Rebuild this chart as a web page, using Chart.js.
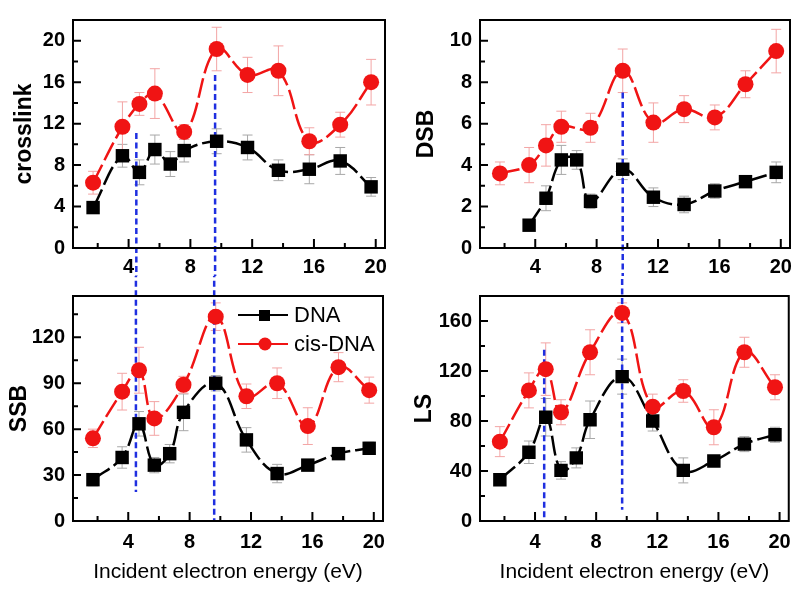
<!DOCTYPE html>
<html>
<head>
<meta charset="utf-8">
<script src="https://cdn.jsdelivr.net/npm/chart.js@4.4.1/dist/chart.umd.min.js"></script>
<style>
  body { margin: 0; background: #fff; }
  #wrap { position: relative; width: 800px; height: 590px; }
  .panel { position: absolute; }
</style>
</head>
<body>
<div id="wrap">
  <div class="panel" style="left:0;top:0;width:400px;height:276px"><canvas id="crosslink"></canvas></div>
  <div class="panel" style="left:400px;top:0;width:400px;height:276px"><canvas id="dsb"></canvas></div>
  <div class="panel" style="left:0;top:276px;width:400px;height:314px"><canvas id="ssb"></canvas></div>
  <div class="panel" style="left:400px;top:276px;width:400px;height:314px"><canvas id="ls"></canvas></div>
</div>
<script>
// energies (eV) of the measured points
const energyDNA = [1.7, 3.6, 4.7, 5.7, 6.7, 7.6, 9.7, 11.7, 13.7, 15.7, 17.7, 19.7]
const energyCis = [1.7, 3.6, 4.7, 5.7, 7.6, 9.7, 11.7, 13.7, 15.7, 17.7, 19.7]

// crosslink
const crosslinkDNA = [3.9, 8.9, 7.3, 9.5, 8.1, 9.4, 10.3, 9.7, 7.5, 7.6, 8.4, 5.9]
const crosslinkDNAErr = [0.4, 1.1, 1.2, 1.4, 1.2, 1.1, 1.2, 1.2, 1.0, 1.4, 1.3, 0.9]
const crosslinkCis = [6.3, 11.7, 13.9, 14.9, 11.2, 19.2, 16.7, 17.1, 10.3, 11.9, 16.0]
const crosslinkCisErr = [1.1, 2.4, 1.1, 2.4, 0.7, 2.1, 1.7, 2.4, 1.3, 1.2, 2.2]

// DSB
const dsbDNA = [null, 1.1, 2.4, 4.25, 4.25, 2.25, 3.8, 2.45, 2.1, 2.75, 3.2, 3.65]
const dsbDNAErr = [0, 0.25, 0.6, 0.7, 0.45, 0.35, 0.5, 0.45, 0.4, 0.35, 0.2, 0.5]
const dsbCis = [3.6, 4.0, 4.95, 5.85, 5.8, 8.55, 6.05, 6.7, 6.3, 7.9, 9.5]
const dsbCisErr = [0.55, 0.85, 1.0, 0.75, 0.7, 1.05, 0.95, 0.65, 0.6, 0.65, 1.05]

// SSB
const ssbDNA = [27, 41.5, 63.5, 36.5, 44, 71, 90, 53, 31, 36.5, 44, 47.5]
const ssbDNAErr = [4, 7, 8, 5, 6, 12, 5, 8, 6, 3, 3, 4]
const ssbCis = [54, 84.5, 98.5, 67, 89, 133.5, 81.5, 90, 62, 100.5, 85.5]
const ssbCisErr = [6, 12, 15, 11, 5.5, 9, 8, 10, 12, 9.5, 8.5]

// LS
const lsDNA = [33, 55, 83, 40.5, 50.5, 81, 115.5, 80, 40.5, 48, 61.5, 69]
const lsDNAErr = [4, 9, 15, 7, 8, 15, 14, 8, 10, 3, 6, 6]
const lsCis = [63.5, 104.5, 121.5, 87, 135, 166.5, 91.5, 104, 75, 135, 107]
const lsCisErr = [12, 14, 21, 10, 18, 8, 10, 9, 14, 12, 10]

// blue dashed guide lines: x position, from / to (y values, past the edge = runs into next panel)
const crosslinkGuideX = [4.5, 9.6]
const crosslinkGuideFrom = [11.1, 16.7]
const crosslinkGuideTo = [-10, -10]
const dsbGuideX = [9.7]
const dsbGuideFrom = [7.5]
const dsbGuideTo = [-10]
const ssbGuideX = [4.5, 9.6]
const ssbGuideFrom = [250, 250]
const ssbGuideTo = [19, 0]
const lsGuideX = [4.6, 9.7]
const lsGuideFrom = [137, 300]
const lsGuideTo = [0, 9]

Chart.defaults.font.family = '"Liberation Sans", Arial, sans-serif'
Chart.defaults.color = '#000'

const RED = '#f01414'
const BLACK = '#000'

const toPoints = (xs, ys) => xs.map((x, i) => ({ x, y: ys[i] }))

// frame, inward ticks, error bars, legend
const panelDecor = {
  id: 'panelDecor',
  beforeDatasetsDraw(chart) {
    const ctx = chart.ctx
    const yScale = chart.scales.y
    chart.data.datasets.forEach((ds, i) => {
      if (!ds.errorBars) return
      const meta = chart.getDatasetMeta(i)
      ctx.save()
      ctx.strokeStyle = ds.errorColor
      ctx.lineWidth = 1
      meta.data.forEach((el, j) => {
        const v = ds.data[j].y
        const e = ds.errorBars[j]
        if (v == null || !e) return
        const top = yScale.getPixelForValue(v + e)
        const bot = yScale.getPixelForValue(v - e)
        ctx.beginPath()
        ctx.moveTo(el.x, top)
        ctx.lineTo(el.x, bot)
        ctx.moveTo(el.x - 5, top)
        ctx.lineTo(el.x + 5, top)
        ctx.moveTo(el.x - 5, bot)
        ctx.lineTo(el.x + 5, bot)
        ctx.stroke()
      })
      ctx.restore()
    })
  },
  afterDraw(chart, args, opts) {
    const ctx = chart.ctx
    const a = chart.chartArea
    ctx.save()
    ctx.strokeStyle = '#000'
    ctx.lineWidth = 2
    ctx.strokeRect(a.left, a.top, a.right - a.left, a.bottom - a.top)

    ctx.beginPath()
    chart.scales.x.ticks.forEach(t => {
      const px = chart.scales.x.getPixelForValue(t.value)
      const len = t.value % 4 === 0 ? 9 : 5
      ctx.moveTo(px, a.bottom)
      ctx.lineTo(px, a.bottom - len)
    })
    chart.scales.y.ticks.forEach(t => {
      const py = chart.scales.y.getPixelForValue(t.value)
      const len = Math.abs(t.value % opts.yMajor) < 1e-6 ? 8 : 5
      ctx.moveTo(a.left, py)
      ctx.lineTo(a.left + len, py)
    })
    ctx.stroke()

    if (opts.legend) {
      const lx = a.right - 145
      const rows = [
        { y: a.top + 19, color: BLACK, text: 'DNA', square: true },
        { y: a.top + 48, color: RED, text: 'cis-DNA', square: false },
      ]
      rows.forEach(r => {
        ctx.strokeStyle = r.color
        ctx.fillStyle = r.color
        ctx.lineWidth = 2
        ctx.beginPath()
        ctx.moveTo(lx, r.y)
        ctx.lineTo(lx + 50, r.y)
        ctx.stroke()
        ctx.beginPath()
        if (r.square) ctx.rect(lx + 21, r.y - 5, 11, 11)
        else ctx.arc(lx + 27, r.y, 6.5, 0, Math.PI * 2)
        ctx.fill()
        ctx.fillStyle = '#000'
        ctx.font = '22px "Liberation Sans", Arial, sans-serif'
        ctx.textBaseline = 'middle'
        ctx.fillText(r.text, lx + 56, r.y + 1)
      })
    }
    ctx.restore()
  },
}

function makePanel(id, p) {
  const guides = p.guideX.map((gx, i) => ({
    type: 'line',
    data: [{ x: gx, y: p.guideFrom[i] }, { x: gx, y: p.guideTo[i] }],
    borderColor: '#1f2fe0',
    borderWidth: 2.5,
    borderDash: [6, 3.5],
    pointRadius: 0,
    clip: false,
    order: 5,
  }))

  const data = {
    datasets: [
      ...guides,
      {
        label: 'DNA',
        data: toPoints(energyDNA, p.dna),
        errorBars: p.dnaErr,
        errorColor: '#a8a8a8',
        borderColor: BLACK,
        backgroundColor: BLACK,
        borderWidth: 2.5,
        borderDash: [20, 5],
        tension: 0.4,
        pointStyle: 'rect',
        pointRadius: 9.5,
        pointBorderWidth: 0,
        order: 2,
      },
      {
        label: 'cis-DNA',
        data: toPoints(energyCis, p.cis),
        errorBars: p.cisErr,
        errorColor: '#f3a5a5',
        borderColor: RED,
        backgroundColor: RED,
        borderWidth: 2.5,
        borderDash: [20, 5],
        tension: 0.4,
        pointStyle: 'circle',
        pointRadius: 8,
        pointBorderWidth: 0,
        order: 1,
      },
    ],
  }

  const options = {
    responsive: true,
    maintainAspectRatio: false,
    animation: false,
    layout: { padding: { top: p.padTop, right: p.padRight, left: 0, bottom: 0 } },
    plugins: {
      legend: { display: false },
      tooltip: { enabled: false },
      panelDecor: { yMajor: p.yMajor, legend: p.legend },
    },
    scales: {
      x: {
        type: 'linear',
        min: 0.4,
        max: 20.6,
        grid: { display: false, drawTicks: false },
        border: { display: false },
        ticks: {
          stepSize: 2,
          includeBounds: false,
          autoSkip: false,
          maxRotation: 0,
          padding: p.xTickPad,
          color: '#000',
          font: { size: 20, weight: 'bold' },
          callback: v => (v % 4 === 0 ? v : ''),
        },
        title: {
          display: !!p.xTitle,
          text: 'Incident electron energy (eV)',
          color: '#000',
          font: { size: 21 },
          padding: { top: 0, bottom: 5 },
        },
        afterFit: s => { s.height = p.xHeight },
      },
      y: {
        min: 0,
        max: p.yMax,
        grid: { display: false, drawTicks: false },
        border: { display: false },
        ticks: {
          stepSize: p.yStep,
          includeBounds: false,
          autoSkip: false,
          padding: 8,
          color: '#000',
          font: { size: 20, weight: 'bold' },
          callback: v => (Math.abs(v % p.yMajor) < 1e-6 ? v : ''),
        },
        title: {
          display: true,
          text: p.title,
          color: '#000',
          font: { size: 23, weight: 'bold' },
          padding: { top: p.titlePad, bottom: 0 },
        },
        afterFit: s => { s.width = p.yWidth },
      },
    },
  }

  return new Chart(document.getElementById(id), {
    type: 'line',
    data,
    options,
    plugins: [panelDecor],
  })
}

makePanel('crosslink', {
  title: 'crosslink', yMax: 22, yStep: 2, yMajor: 4,
  dna: crosslinkDNA, dnaErr: crosslinkDNAErr, cis: crosslinkCis, cisErr: crosslinkCisErr,
  guideX: crosslinkGuideX, guideFrom: crosslinkGuideFrom, guideTo: crosslinkGuideTo,
  padTop: 8, padRight: 15, yWidth: 73, xHeight: 28, xTickPad: 7, titlePad: 11,
})

makePanel('dsb', {
  title: 'DSB', yMax: 11, yStep: 1, yMajor: 2,
  dna: dsbDNA, dnaErr: dsbDNAErr, cis: dsbCis, cisErr: dsbCisErr,
  guideX: dsbGuideX, guideFrom: dsbGuideFrom, guideTo: dsbGuideTo,
  padTop: 8, padRight: 10, yWidth: 80, xHeight: 28, xTickPad: 7, titlePad: 13,
})

makePanel('ssb', {
  title: 'SSB', yMax: 147, yStep: 15, yMajor: 30,
  dna: ssbDNA, dnaErr: ssbDNAErr, cis: ssbCis, cisErr: ssbCisErr,
  guideX: ssbGuideX, guideFrom: ssbGuideFrom, guideTo: ssbGuideTo,
  padTop: 7, padRight: 17, yWidth: 73, xHeight: 69, xTickPad: 9, titlePad: 6,
  xTitle: true, legend: true,
})

makePanel('ls', {
  title: 'LS', yMax: 180, yStep: 20, yMajor: 40,
  dna: lsDNA, dnaErr: lsDNAErr, cis: lsCis, cisErr: lsCisErr,
  guideX: lsGuideX, guideFrom: lsGuideFrom, guideTo: lsGuideTo,
  padTop: 7, padRight: 10, yWidth: 80, xHeight: 69, xTickPad: 9, titlePad: 11,
  xTitle: true,
})
</script>
</body>
</html>
